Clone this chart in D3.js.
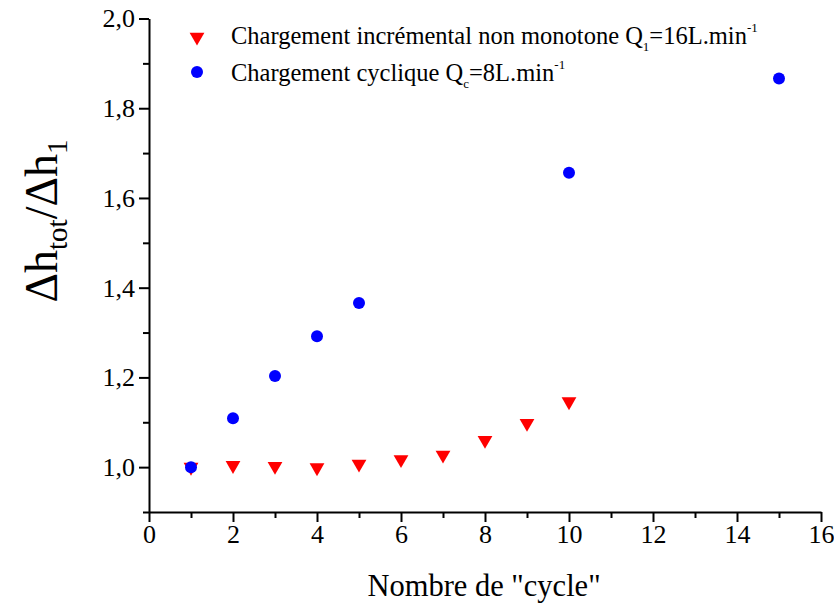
<!DOCTYPE html>
<html>
<head>
<meta charset="utf-8">
<script src="https://cdn.jsdelivr.net/npm/d3@7"></script>
<style>
    body { margin: 0; background: #fff; }
    svg text { font-family: 'Liberation Serif', 'DejaVu Serif', serif !important; }
</style>
</head>
<body>
<div id="chart"></div>
<script>
// cycle numbers and values
var incrCycles = [1, 2, 3, 4, 5, 6, 7, 8, 9, 10];
var incrValues = [1.0, 1.004, 1.002, 0.999, 1.007, 1.017, 1.027, 1.06, 1.098, 1.146];
var cyclCycles = [1, 2, 3, 4, 5, 10, 15];
var cyclValues = [1.0, 1.109, 1.203, 1.292, 1.366, 1.656, 1.866];
var xTicks = [0, 2, 4, 6, 8, 10, 12, 14, 16];
var yTicks = [1.0, 1.2, 1.4, 1.6, 1.8, 2.0];

var width = 834, height = 606;
var margin = {left: 149, right: 13, top: 18.5, bottom: 94};
var plotW = width - margin.left - margin.right;
var plotH = height - margin.top - margin.bottom;

var svg = d3.select('#chart').append('svg')
    .attr('width', width)
    .attr('height', height);

var g = svg.append('g')
    .attr('transform', `translate(${margin.left},${margin.top})`);

var x = d3.scaleLinear().domain([0, 16]).range([0, plotW]);
var y = d3.scaleLinear().domain([0.9, 2.0]).range([plotH, 0]);

var fmt = d => d3.format('.1f')(d).replace('.', ',');

// minor ticks
g.append('g')
    .attr('transform', `translate(0,${plotH})`)
    .call(d3.axisBottom(x).tickValues(d3.range(1, 16, 2)).tickSize(6).tickFormat(''))
    .call(a => a.select('.domain').remove());
g.append('g')
    .call(d3.axisLeft(y).tickValues([0.9, 1.1, 1.3, 1.5, 1.7, 1.9]).tickSize(6).tickFormat(''))
    .call(a => a.select('.domain').remove());

// major axes
var xAxis = g.append('g')
    .attr('transform', `translate(0,${plotH})`)
    .call(d3.axisBottom(x).tickValues(xTicks).tickSize(10).tickSizeOuter(0).tickPadding(3));
var yAxis = g.append('g')
    .call(d3.axisLeft(y).tickValues(yTicks).tickSize(10).tickSizeOuter(0).tickPadding(4).tickFormat(fmt));

g.selectAll('.tick line, .domain').attr('stroke', '#000').attr('stroke-width', 2);
g.selectAll('.tick text').attr('font-size', 26).attr('fill', '#000');

// series
var tri = d3.symbol().type(d3.symbolTriangle).size(95);
g.append('g').selectAll('path')
    .data(incrCycles.map((c, i) => [c, incrValues[i]]))
    .join('path')
    .attr('d', tri)
    .attr('fill', '#ff0000')
    .attr('transform', d => `translate(${x(d[0])},${y(d[1])}) rotate(180)`);

g.append('g').selectAll('circle')
    .data(cyclCycles.map((c, i) => [c, cyclValues[i]]))
    .join('circle')
    .attr('cx', d => x(d[0]))
    .attr('cy', d => y(d[1]))
    .attr('r', 6)
    .attr('fill', '#0000ff');

// legend
var legend = svg.append('g');
legend.append('path')
    .attr('d', tri)
    .attr('fill', '#ff0000')
    .attr('transform', 'translate(197,37) rotate(180)');
legend.append('circle')
    .attr('cx', 197).attr('cy', 72).attr('r', 6).attr('fill', '#0000ff');

var t1 = legend.append('text').attr('x', 231).attr('y', 44).attr('font-size', 24.5);
t1.append('tspan').text('Chargement incrémental non monotone Q');
t1.append('tspan').attr('font-size', 13).attr('dy', 7).text('1');
t1.append('tspan').attr('dy', -7).text('=16L.min');
t1.append('tspan').attr('font-size', 13).attr('dy', -12).text('-1');

var t2 = legend.append('text').attr('x', 231).attr('y', 81).attr('font-size', 24.5);
t2.append('tspan').text('Chargement cyclique Q');
t2.append('tspan').attr('font-size', 13).attr('dy', 7).text('c');
t2.append('tspan').attr('dy', -7).text('=8L.min');
t2.append('tspan').attr('font-size', 13).attr('dy', -12).text('-1');

// axis titles
svg.append('text')
    .attr('x', 484)
    .attr('y', 596)
    .attr('text-anchor', 'middle')
    .attr('font-size', 30.5)
    .text('Nombre de "cycle"');

var yl = svg.append('text')
    .attr('transform', 'translate(57,221) rotate(-90)')
    .attr('text-anchor', 'middle')
    .attr('font-size', 46);
yl.append('tspan').text('Δh');
yl.append('tspan').attr('font-size', 29).attr('dy', 10).text('tot');
yl.append('tspan').attr('dy', -10).text('/Δh');
yl.append('tspan').attr('font-size', 29).attr('dy', 10).text('1');
</script>
</body>
</html>
